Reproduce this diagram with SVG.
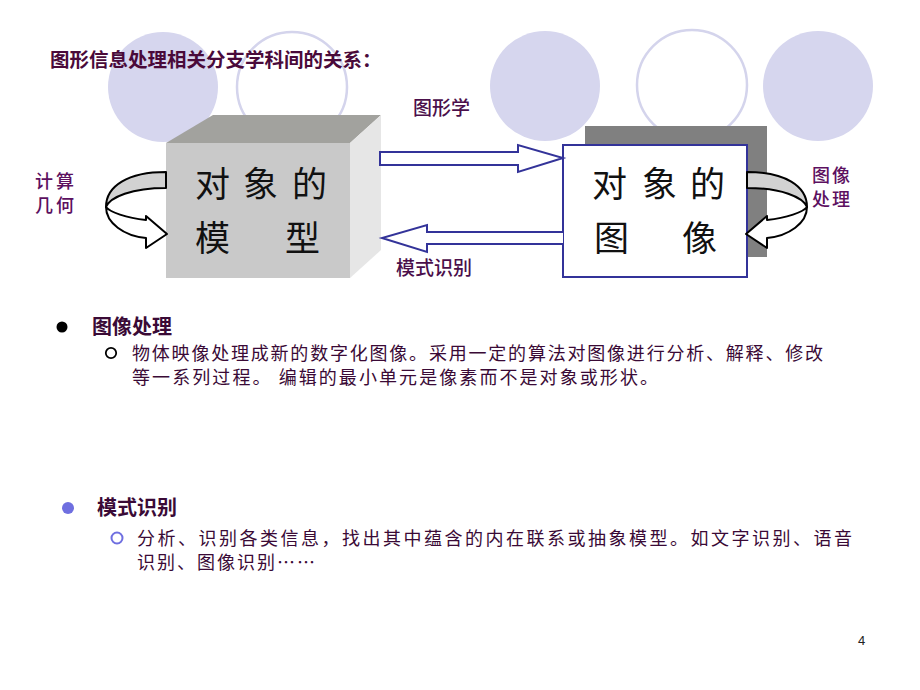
<svg xmlns="http://www.w3.org/2000/svg" width="920" height="690" viewBox="0 0 920 690">
<defs>
<style>
.cj{font-family:"Noto Sans CJK SC","Liberation Sans",sans-serif}
.title{font-size:19.5px;font-weight:bold;fill:#4a0a3a}
.lbl{font-size:19px;font-weight:500;fill:#4b0f4b}
.side{font-size:18px;font-weight:500;fill:#5c1060}
.big{font-size:35px;fill:#111}
.head{font-size:20px;font-weight:bold;fill:#3a0a36}
.body{font-size:18px;fill:#3a0a36}
.fcirc{fill:#d6d6ee}
.ocirc{fill:none;stroke:#d4d4ec;stroke-width:2.5}
.conn{fill:#fff;stroke:#333399;stroke-width:2;stroke-linejoin:miter}
.band{stroke:#000;stroke-width:2;stroke-linejoin:round}
</style>
</defs>
<rect width="920" height="690" fill="#fff"/>
<g id="background">
<circle class="fcirc" cx="163" cy="87" r="55"/>
<circle class="ocirc" cx="292" cy="87" r="55"/>
<circle class="fcirc" cx="545" cy="86" r="55"/>
<circle class="ocirc" cx="692" cy="85" r="55"/>
<circle class="fcirc" cx="818" cy="86" r="55"/>
</g>
<text class="cj title" x="50" y="67">图形信息处理相关分支学科间的关系：</text>

<g id="node-model">
<polygon points="166,143 213,115 381,115 350,143" fill="#a2a29e"/>
<polygon points="350,143 381,115 381,250 350,278" fill="#e6e6e6"/>
<rect x="166" y="143" width="184" height="135" fill="#c9c9c9"/>
<g class="cj big">
<text x="195" y="197">对</text>
<text x="243" y="197">象</text>
<text x="292" y="197">的</text>
<text x="195" y="251">模</text>
<text x="285" y="251">型</text>
</g>
</g>

<g id="node-image">
<rect x="585" y="126" width="182" height="131" fill="#808080"/>
<rect x="563" y="145" width="184" height="132" fill="#fff" stroke="#333399" stroke-width="2"/>
<g class="cj big">
<text x="592" y="197">对</text>
<text x="642" y="197">象</text>
<text x="690" y="197">的</text>
<text x="594" y="251">图</text>
<text x="682" y="251">像</text>
</g>
</g>

<g id="connectors">
<path class="conn" d="M380,152 L518,152 L518,145 L563,158 L518,172 L518,165 L380,165 Z"/>
<path class="conn" d="M563,232 L427,232 L427,225 L382,238 L427,252 L427,244 L563,244"/>
<g id="loop-left">
<path class="band" fill="#d2d2d2" d="M166,172 C128,172 106,186 106,207 C110,197 132,188 166,188 Z"/>
<path class="band" fill="#fff" d="M106,207 C106,223 124,236 146,238 L146,248 L167,234 L146,216 L146,220 C126,218 110,212 106,207 Z"/>
</g>
<g id="loop-right" transform="translate(913,0) scale(-1,1)">
<path class="band" fill="#d2d2d2" d="M166,172 C128,172 106,186 106,207 C110,197 132,188 166,188 Z"/>
<path class="band" fill="#fff" d="M106,207 C106,223 124,236 146,238 L146,248 L167,234 L146,216 L146,220 C126,218 110,212 106,207 Z"/>
</g>
</g>

<g id="labels" class="cj">
<text class="lbl" x="413" y="115">图形学</text>
<text class="lbl" x="396" y="275">模式识别</text>
<text class="side" x="35" y="188" textLength="39" lengthAdjust="spacing">计算</text>
<text class="side" x="35" y="211.5" textLength="39" lengthAdjust="spacing">几何</text>
<text class="side" x="812" y="182" textLength="38" lengthAdjust="spacing">图像</text>
<text class="side" x="812" y="205.5" textLength="38" lengthAdjust="spacing">处理</text>
</g>

<g id="bullets">
<circle cx="62" cy="327" r="5.5" fill="#000"/>
<text class="cj head" x="92" y="334">图像处理</text>
<circle cx="111" cy="353" r="5.2" fill="none" stroke="#000" stroke-width="1.8"/>
<text class="cj body" x="132" y="359.5" textLength="691" lengthAdjust="spacing">物体映像处理成新的数字化图像。采用一定的算法对图像进行分析、解释、修改</text>
<text class="cj body" x="132" y="383.5" textLength="526" lengthAdjust="spacing">等一系列过程。 编辑的最小单元是像素而不是对象或形状。</text>

<circle cx="68" cy="508" r="6" fill="#6f6fe0"/>
<text class="cj head" x="97" y="515">模式识别</text>
<circle cx="117" cy="538" r="5.5" fill="none" stroke="#6f6fe0" stroke-width="2"/>
<text class="cj body" x="137" y="545" textLength="715" lengthAdjust="spacing">分析、识别各类信息，找出其中蕴含的内在联系或抽象模型。如文字识别、语音</text>
<text class="cj body" x="137" y="568.5" textLength="178" lengthAdjust="spacing">识别、图像识别……</text>
</g>
<text x="858" y="645" font-family="Liberation Sans, sans-serif" font-size="13" fill="#222">4</text>
</svg>
